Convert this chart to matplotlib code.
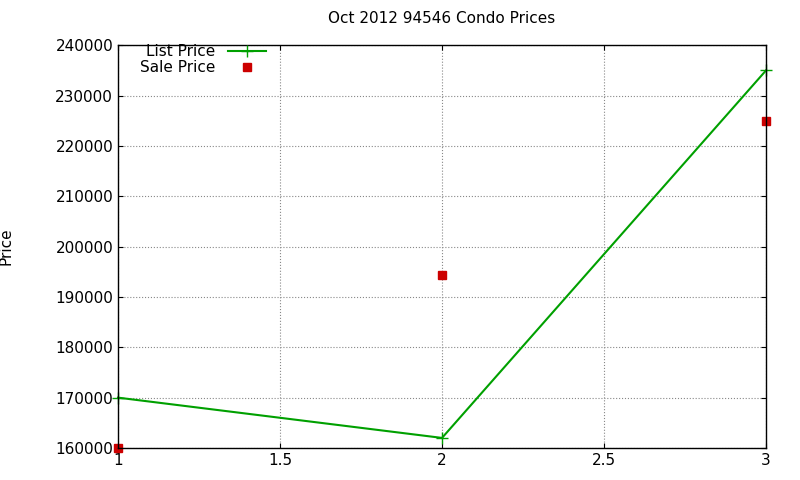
import matplotlib
matplotlib.use('Agg')
import matplotlib.pyplot as plt

x = [1, 2, 3]
list_price = [170000, 162000, 235000]
sale_price = [160000, 194300, 225000]

fig = plt.figure(figsize=(8, 4.8), dpi=100)
ax = fig.add_axes([0.1475, 0.0667, 0.81, 0.839])

ax.plot(x, list_price, color='#00a000', marker='+', markersize=8, linewidth=1.5,
        label='List Price', clip_on=False)
ax.plot(x, sale_price, color='#cc0000', marker='s', markersize=6, linestyle='none',
        label='Sale Price', clip_on=False)

ax.set_xlim(1, 3)
ax.set_ylim(160000, 240000)
ax.set_xticks([1, 1.5, 2, 2.5, 3])
ax.set_xticklabels(['1', '1.5', '2', '2.5', '3'])
ax.set_yticks(range(160000, 240001, 10000))
ax.grid(True, linestyle=':', color='#888888', linewidth=0.8)
ax.tick_params(direction='in', labelsize=11, top=True, right=True)
for s in ax.spines.values():
    s.set_linewidth(1)

ax.set_title('Oct 2012 94546 Condo Prices', fontsize=11, pad=16)
ax.set_ylabel('Price', fontsize=11, labelpad=30)

ax.legend(loc='upper left', frameon=False, markerfirst=False, fontsize=11,
          bbox_to_anchor=(0.02, 1.025), handlelength=2.5, borderaxespad=0.2,
          labelspacing=0.05)

fig.savefig('out.png', dpi=100, facecolor='white')
